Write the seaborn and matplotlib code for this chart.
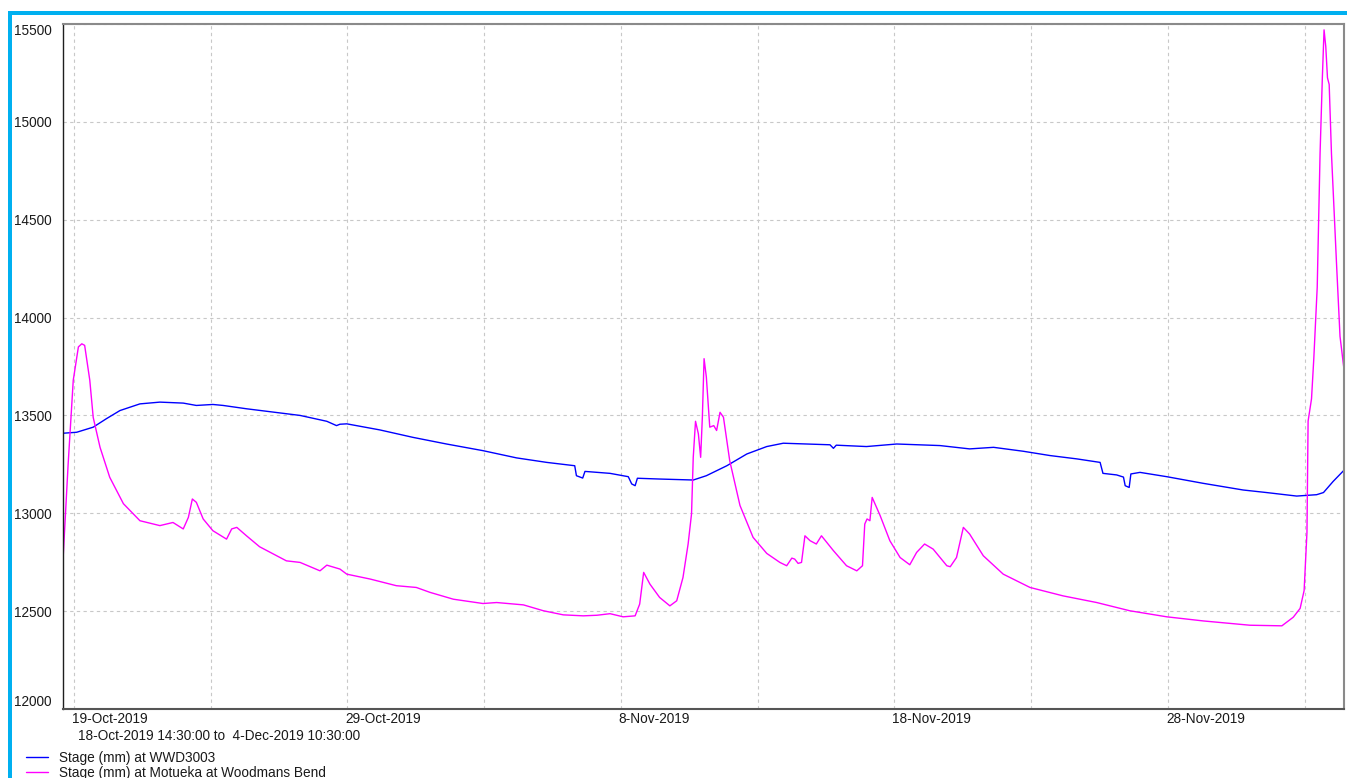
import matplotlib
matplotlib.use("Agg")
import matplotlib.pyplot as plt
import matplotlib.dates as mdates
from matplotlib.patches import Rectangle
from matplotlib.lines import Line2D
from matplotlib.transforms import ScaledTranslation
import pandas as pd
import seaborn as sns

# ---------------- data ----------------
series_names = ["Stage (mm) at WWD3003", "Stage (mm) at Motueka at Woodmans Bend"]
series_colors = ["#0000ff", "#ff00ff"]

wwd_times = [
    "10-18 14:30", "10-19 02:30", "10-19 17:00", "10-20 04:30", "10-20 16:30", "10-21 10:00",
    "10-22 03:30", "10-23 00:00", "10-23 11:30", "10-24 02:00", "10-24 11:00", "10-25 07:30",
    "10-26 07:00", "10-27 06:30", "10-28 06:00", "10-28 14:30", "10-28 17:30", "10-28 23:30",
    "10-30 04:30", "10-31 09:30", "11-01 15:00", "11-02 23:00", "11-04 04:30", "11-05 07:00",
    "11-06 07:30", "11-06 09:00", "11-06 14:30", "11-06 16:30", "11-07 14:30", "11-08 06:30",
    "11-08 09:30", "11-08 12:30", "11-08 14:30", "11-09 10:00", "11-10 15:30", "11-11 03:00",
    "11-11 21:00", "11-12 14:30", "11-13 08:00", "11-13 22:30", "11-15 15:30", "11-15 18:30",
    "11-15 21:00", "11-16 23:30", "11-18 02:00", "11-19 16:00", "11-20 18:00", "11-21 15:00",
    "11-22 17:00", "11-23 16:30", "11-24 16:00", "11-25 12:30", "11-25 15:00", "11-26 03:00",
    "11-26 09:00", "11-26 10:30", "11-26 14:00", "11-26 15:30", "11-26 23:30", "11-27 23:00",
    "11-29 07:00", "11-30 18:00", "12-01 14:30", "12-02 17:00", "12-03 10:30", "12-03 16:30",
    "12-04 01:00", "12-04 10:30",
]
wwd_values = [
    13409, 13414, 13440, 13483, 13525, 13559,
    13568, 13563, 13551, 13556, 13551, 13534,
    13517, 13500, 13470, 13448, 13455, 13457,
    13426, 13388, 13354, 13320, 13283, 13260,
    13243, 13192, 13180, 13214, 13204, 13187,
    13150, 13141, 13179, 13175, 13170, 13192,
    13243, 13303, 13341, 13358, 13350, 13332,
    13348, 13341, 13354, 13346, 13329, 13337,
    13317, 13295, 13278, 13260, 13204, 13196,
    13185, 13141, 13132, 13201, 13209, 13187,
    13153, 13119, 13106, 13088, 13095, 13106,
    13163, 13220,
]

mot_times = [
    "10-18 14:30", "10-18 19:00", "10-18 23:30", "10-19 04:00", "10-19 07:00", "10-19 09:30",
    "10-19 14:00", "10-19 17:00", "10-19 23:00", "10-20 07:30", "10-20 19:30", "10-21 10:00",
    "10-22 03:30", "10-22 15:00", "10-23 00:00", "10-23 04:30", "10-23 08:00", "10-23 11:30",
    "10-23 17:30", "10-24 02:00", "10-24 14:00", "10-24 18:30", "10-24 23:00", "10-25 07:30",
    "10-25 19:00", "10-26 18:30", "10-27 06:30", "10-28 00:00", "10-28 06:00", "10-28 17:30",
    "10-28 23:30", "10-29 20:00", "10-30 19:00", "10-31 12:30", "11-01 00:30", "11-01 21:00",
    "11-02 23:00", "11-03 11:00", "11-04 10:30", "11-05 04:00", "11-05 21:30", "11-06 15:00",
    "11-07 03:00", "11-07 14:30", "11-08 02:00", "11-08 12:30", "11-08 16:30", "11-08 20:00",
    "11-09 01:30", "11-09 10:00", "11-09 19:00", "11-10 01:00", "11-10 06:30", "11-10 11:00",
    "11-10 14:00", "11-10 15:30", "11-10 17:30", "11-10 20:00", "11-10 22:00", "11-10 23:30",
    "11-11 01:00", "11-11 03:00", "11-11 06:00", "11-11 09:30", "11-11 12:00", "11-11 15:00",
    "11-11 18:00", "11-11 23:30", "11-12 08:30", "11-12 20:00", "11-13 08:00", "11-13 19:30",
    "11-14 01:30", "11-14 06:00", "11-14 08:30", "11-14 11:30", "11-14 14:30", "11-14 17:30",
    "11-14 22:00", "11-15 03:30", "11-15 08:00", "11-15 18:30", "11-16 06:00", "11-16 15:00",
    "11-16 20:00", "11-16 22:00", "11-17 00:00", "11-17 02:30", "11-17 04:30", "11-17 11:30",
    "11-17 20:00", "11-18 05:00", "11-18 13:30", "11-18 19:30", "11-19 02:30", "11-19 10:00",
    "11-19 22:00", "11-20 01:00", "11-20 06:30", "11-20 12:30", "11-20 18:00", "11-21 06:00",
    "11-21 23:30", "11-22 23:00", "11-24 04:00", "11-25 09:30", "11-26 14:30", "11-27 23:00",
    "11-29 07:00", "12-01 00:00", "12-02 04:00", "12-02 14:00", "12-02 20:00", "12-02 23:30",
    "12-03 02:00", "12-03 03:00", "12-03 06:00", "12-03 08:00", "12-03 11:00", "12-03 13:30",
    "12-03 15:30", "12-03 17:00", "12-03 18:30", "12-03 20:00", "12-03 21:30", "12-03 23:30",
    "12-04 04:00", "12-04 07:00", "12-04 10:30",
]
mot_values = [
    12760, 13250, 13680, 13850, 13866, 13858,
    13680, 13490, 13337, 13184, 13049, 12962,
    12937, 12953, 12920, 12979, 13073, 13056,
    12971, 12911, 12868, 12920, 12928, 12885,
    12829, 12757, 12749, 12706, 12735, 12715,
    12689, 12664, 12630, 12621, 12596, 12561,
    12539, 12544, 12532, 12502, 12481, 12476,
    12479, 12487, 12471, 12476, 12536, 12698,
    12638, 12570, 12527, 12553, 12672, 12843,
    12997, 13286, 13470, 13406, 13286, 13491,
    13790, 13696, 13440, 13448, 13423, 13516,
    13491, 13269, 13040, 12877, 12795, 12749,
    12732, 12771, 12766, 12744, 12749, 12885,
    12860, 12843, 12885, 12809, 12732, 12706,
    12732, 12945, 12971, 12962, 13081, 12988,
    12860, 12774, 12737, 12800, 12843, 12817,
    12732, 12727, 12774, 12928, 12894, 12783,
    12689, 12621, 12578, 12544, 12502, 12471,
    12450, 12428, 12425, 12469, 12514, 12605,
    12902, 13471, 13585, 13790, 14155, 14838,
    15225, 15470, 15385, 15225, 15191, 14838,
    14268, 13904, 13735,
]

x_start = "2019-10-18 14:30"
x_end = "2019-12-04 10:30"
major_tick_dates = ["2019-10-19", "2019-10-29", "2019-11-08", "2019-11-18", "2019-11-28"]
major_tick_labels = ["19-Oct-2019", "29-Oct-2019", "8-Nov-2019", "18-Nov-2019", "28-Nov-2019"]
minor_tick_dates = ["2019-10-24", "2019-11-03", "2019-11-13", "2019-11-23", "2019-12-03"]
y_ticks = [12000, 12500, 13000, 13500, 14000, 14500, 15000, 15500]
period_text = "18-Oct-2019 14:30:00 to  4-Dec-2019 10:30:00"

# ---------------- build table ----------------
df = pd.concat([
    pd.DataFrame({"time": pd.to_datetime(["2019-" + t for t in wwd_times]),
                  "value": wwd_values, "series": series_names[0]}),
    pd.DataFrame({"time": pd.to_datetime(["2019-" + t for t in mot_times]),
                  "value": mot_values, "series": series_names[1]}),
], ignore_index=True)

# ---------------- style ----------------
sns.set_theme(style="white")
plt.rcParams["font.family"] = ["Liberation Sans", "DejaVu Sans"]
FS = 9.8
TXT = "#1a1a1a"

W, H = 1347, 778
fig = plt.figure(figsize=(W / 100, H / 100), dpi=100)
fig.patch.set_facecolor("white")

L, R, T, B = 63, 1344, 24, 709
ax = fig.add_axes([L / W, 1 - B / H, (R - L) / W, (B - T) / H])
ax.set_facecolor("white")

sns.lineplot(data=df, x="time", y="value", hue="series",
             palette=dict(zip(series_names, series_colors)),
             hue_order=series_names, estimator=None, sort=True,
             linewidth=1.0, legend=False, ax=ax)

ax.set_xlim(pd.Timestamp(x_start), pd.Timestamp(x_end))
ax.set_ylim(y_ticks[0], y_ticks[-1])
ax.set_xlabel("")
ax.set_ylabel("")

# ticks
ax.set_xticks(mdates.date2num(pd.to_datetime(major_tick_dates)))
ax.set_xticklabels(major_tick_labels)
ax.set_xticks(mdates.date2num(pd.to_datetime(minor_tick_dates)), minor=True)
ax.set_yticks(y_ticks)
ax.set_yticklabels([str(v) for v in y_ticks])

ax.tick_params(axis="both", which="both", length=0, labelsize=FS, colors=TXT)
ax.tick_params(axis="y", pad=8)
ax.tick_params(axis="x", pad=2)
offset = ScaledTranslation(-2 / 100, 0, fig.dpi_scale_trans)
for lab in ax.get_xticklabels():
    lab.set_horizontalalignment("left")
    lab.set_transform(lab.get_transform() + offset)
ylabs = ax.get_yticklabels()
ylabs[0].set_verticalalignment("bottom")
ylabs[-1].set_verticalalignment("top")

# grid
grid_kw = dict(color="#c8c8c8", linestyle=(0, (3, 3)), linewidth=0.8)
ax.grid(True, which="major", axis="both", **grid_kw)
ax.grid(True, which="minor", axis="x", **grid_kw)
ax.set_axisbelow(True)

# spines
for side, col, lw in [("left", "#1e1e1e", 1.0), ("bottom", "#555555", 1.5),
                      ("top", "#8a8a8a", 1.5), ("right", "#8a8a8a", 1.5)]:
    ax.spines[side].set_visible(True)
    ax.spines[side].set_color(col)
    ax.spines[side].set_linewidth(lw)

# period text below axis
fig.text(78 / W, 1 - 736 / H, period_text, fontsize=FS, color=TXT,
         ha="left", va="center")

# legend
handles = [Line2D([0], [0], color=c, lw=1.0) for c in series_colors]
fig.legend(handles, series_names, loc="upper left",
           bbox_to_anchor=(26 / W, 1 - 751 / H), frameon=False,
           fontsize=FS, handlelength=1.65, handletextpad=0.75,
           labelspacing=0.05, borderpad=0, borderaxespad=0,
           labelcolor=TXT)

# cyan frame on top and left
cyan = "#00b0f0"
fig.add_artist(Rectangle((8 / W, 1 - 15 / H), 1 - 8 / W, 4 / H,
                         transform=fig.transFigure, facecolor=cyan,
                         edgecolor="none", zorder=10))
fig.add_artist(Rectangle((8 / W, 0), 4 / W, 1 - 11 / H,
                         transform=fig.transFigure, facecolor=cyan,
                         edgecolor="none", zorder=10))

fig.savefig("out.png", dpi=100, facecolor="white")
